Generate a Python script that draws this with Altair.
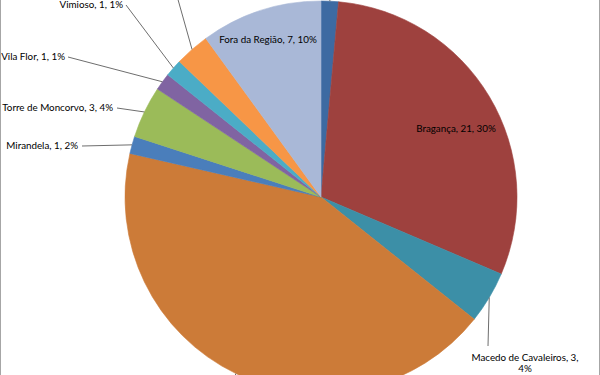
import math
import altair as alt
import pandas as pd

# ---- data ----
names = ["Alfândega da Fé", "Bragança", "Macedo de Cavaleiros", "Miranda do Douro",
         "Mirandela", "Torre de Moncorvo", "Vila Flor", "Vimioso", "Vinhais", "Fora da Região"]
counts = [1, 21, 3, 30, 1, 3, 1, 1, 2, 7]
pct_labels = [1, 30, 4, 43, 2, 4, 1, 1, 3, 10]
colors = ["#3D6AA2", "#9E413E", "#3C8FA7", "#CC7B38", "#4A7EBB",
          "#9BBB59", "#8064A2", "#4BACC6", "#F79646", "#A9B8D7"]

# ---- layout (pie geometry and label placement) ----
CX, CY, R = 321, 197, 196
FONT = "Lato"
label_layout = {
    "Alfândega da Fé":      dict(x=333, y=-16, align="left", lx=331, ly=-12),
    "Bragança":             dict(x=456, y=129, align="center"),
    "Macedo de Cavaleiros": dict(x=525, y=358, align="center", lx=488, ly=346, wrap=True),
    "Miranda do Douro":     dict(x=226, y=392, align="right", lx=229, ly=388),
    "Mirandela":            dict(x=78, y=146, align="right", lx=82, ly=146),
    "Torre de Moncorvo":    dict(x=113, y=108, align="right", lx=117, ly=108),
    "Vila Flor":            dict(x=65, y=57, align="right", lx=68, ly=57),
    "Vimioso":              dict(x=123, y=5, align="right", lx=126, ly=5),
    "Vinhais":              dict(x=175, y=-9, align="right", lx=177, ly=-4),
    "Fora da Região":       dict(x=268, y=40, align="center"),
}

total = sum(counts)
rows = []
cum = 0
for i, (n, c, p, col) in enumerate(zip(names, counts, pct_labels, colors)):
    mid = (cum + c / 2) / total * 2 * math.pi
    cum += c
    lay = label_layout[n]
    text = f"{n}, {c},\n{p}%" if lay.get("wrap") else f"{n}, {c}, {p}%"
    rows.append(dict(idx=i, name=n, count=c, label=text,
                     tx=lay["x"], ty=lay["y"], align=lay["align"],
                     has_leader=("lx" in lay),
                     lx=lay.get("lx", 0), ly=lay.get("ly", 0),
                     ex=CX + R * math.sin(mid), ey=CY - R * math.cos(mid)))
df = pd.DataFrame(rows)

base = alt.Chart(df)

arcs = base.mark_arc(radius=R, strokeWidth=0.6).encode(
    theta=alt.Theta("count:Q", stack=True),
    color=alt.Color("name:N", scale=alt.Scale(domain=names, range=colors), legend=None),
    stroke=alt.Stroke("name:N", scale=alt.Scale(domain=names, range=colors), legend=None),
    order=alt.Order("idx:Q"),
    x=alt.value(CX),
    y=alt.value(CY),
)

leaders = base.transform_filter("datum.has_leader").mark_rule(
    color="#6E6E6E", strokeWidth=1
).encode(
    x=alt.X("lx:Q", scale=None, axis=None),
    y=alt.Y("ly:Q", scale=None, axis=None),
    x2="ex:Q",
    y2="ey:Q",
)

def text_layer(al):
    return base.transform_filter(f"datum.align == '{al}'").mark_text(
        align=al, baseline="middle", font=FONT, fontSize=9.8, color="#000000",
        lineBreak="\n", lineHeight=11
    ).encode(
        x=alt.X("tx:Q", scale=None, axis=None),
        y=alt.Y("ty:Q", scale=None, axis=None),
        text="label:N",
    )

frame = alt.Chart(pd.DataFrame({"side": [0.5, 599.5]})).mark_rule(
    color="#A6A6A6", strokeWidth=1
).encode(
    x=alt.X("side:Q", scale=None, axis=None),
    y=alt.value(0),
    y2=alt.value(375),
)

chart = alt.layer(
    arcs, leaders, text_layer("left"), text_layer("center"), text_layer("right"), frame
).properties(
    width=600, height=375, padding=0, autosize=alt.AutoSizeParams(type="none"),
    background="#FFFFFF",
).configure_view(stroke=None)

chart.save("out.html", embed_options={"renderer": "svg", "actions": False})
